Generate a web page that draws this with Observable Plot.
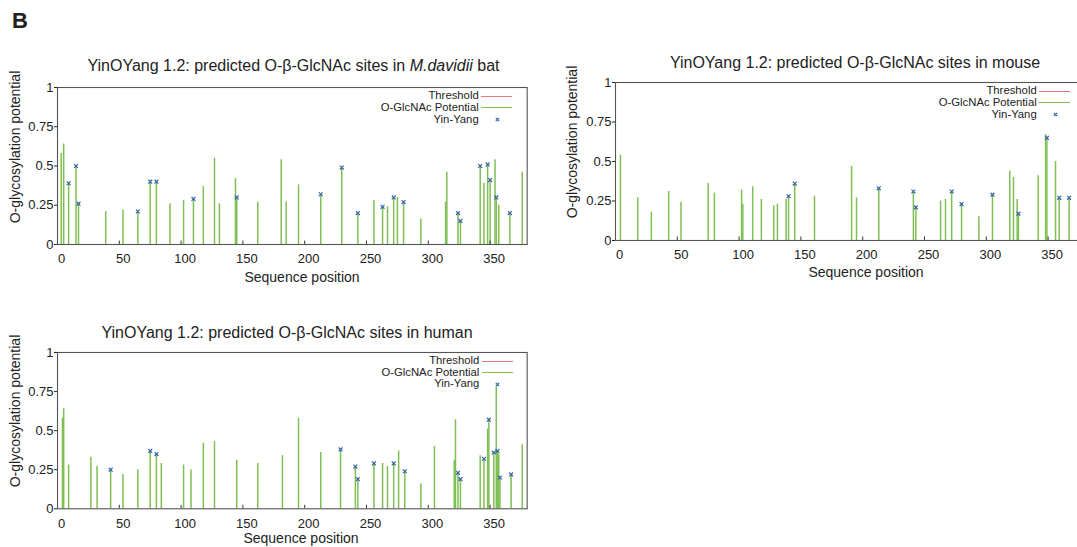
<!DOCTYPE html>
<html><head><meta charset="utf-8">
<script src="https://cdn.jsdelivr.net/npm/d3@7"></script>
<script src="https://cdn.jsdelivr.net/npm/@observablehq/plot@0.6"></script>
<style>
html,body{margin:0;padding:0;background:#fff;}
#page{position:relative;width:1077px;height:547px;overflow:hidden;font-family:"Liberation Sans",Arial,sans-serif;color:#222;background:#fff;}
.abs{position:absolute;white-space:nowrap;line-height:1;}
</style></head><body><div id="page"></div>
<script>
// ---------- data ----------
const xTicks = [0, 50, 100, 150, 200, 250, 300, 350];
const yTicks = [0, 0.25, 0.5, 0.75, 1];
const legendLabels = ["Threshold", "O-GlcNAc Potential", "Yin-Yang"];
const panelTitles = [
  "YinOYang 1.2: predicted O-β-GlcNAc sites in <i>M.davidii</i> bat",
  "YinOYang 1.2: predicted O-β-GlcNAc sites in mouse",
  "YinOYang 1.2: predicted O-β-GlcNAc sites in human"
];
const xLabel = "Sequence position";
const yLabel = "O-glycosylation potential";

// M. davidii bat
const batPos = [3, 5, 9, 15, 17, 39, 53, 65, 75, 80, 91, 102, 110, 118, 127, 131, 144, 145, 162, 181, 185, 195, 213, 230, 243, 256, 263, 267, 272, 275, 280, 294, 314, 315, 324, 326, 342, 345, 348, 350, 354, 355, 357, 366, 376];
const batVal = [0.58, 0.64, 0.39, 0.50, 0.26, 0.21, 0.22, 0.21, 0.40, 0.40, 0.26, 0.28, 0.29, 0.37, 0.55, 0.26, 0.42, 0.30, 0.27, 0.54, 0.27, 0.38, 0.32, 0.49, 0.20, 0.28, 0.24, 0.24, 0.30, 0.30, 0.27, 0.16, 0.27, 0.46, 0.20, 0.15, 0.50, 0.39, 0.51, 0.41, 0.54, 0.30, 0.25, 0.20, 0.46];
const batYYPos = [9, 15, 17, 65, 75, 80, 110, 145, 213, 230, 243, 263, 272, 280, 324, 326, 342, 348, 350, 355, 366];
const batYYVal = [0.39, 0.50, 0.26, 0.21, 0.40, 0.40, 0.29, 0.30, 0.32, 0.49, 0.20, 0.24, 0.30, 0.27, 0.20, 0.15, 0.50, 0.51, 0.41, 0.30, 0.20];

// mouse
const mousePos = [4, 18, 29, 43, 53, 75, 80, 102, 103, 111, 118, 128, 131, 138, 140, 145, 161, 191, 195, 213, 241, 243, 263, 267, 272, 280, 294, 305, 319, 322, 325, 326, 342, 348, 349, 356, 359, 367];
const mouseVal = [0.54, 0.27, 0.18, 0.31, 0.24, 0.36, 0.30, 0.32, 0.23, 0.34, 0.26, 0.22, 0.23, 0.26, 0.28, 0.36, 0.28, 0.47, 0.27, 0.33, 0.31, 0.21, 0.25, 0.26, 0.31, 0.23, 0.15, 0.29, 0.44, 0.40, 0.26, 0.17, 0.41, 0.67, 0.65, 0.50, 0.27, 0.27];
const mouseYYPos = [140, 145, 213, 241, 243, 272, 280, 305, 326, 349, 359, 367];
const mouseYYVal = [0.28, 0.36, 0.33, 0.31, 0.21, 0.31, 0.23, 0.29, 0.17, 0.65, 0.27, 0.27];

// human
const humanPos = [4, 5, 9, 27, 32, 43, 53, 65, 75, 80, 84, 102, 108, 118, 127, 145, 162, 182, 195, 213, 229, 241, 243, 256, 263, 267, 272, 276, 281, 294, 305, 321, 322, 324, 326, 342, 345, 348, 349, 353, 355, 356, 357, 358, 367, 376];
const humanVal = [0.58, 0.64, 0.28, 0.33, 0.27, 0.25, 0.22, 0.25, 0.37, 0.35, 0.29, 0.28, 0.25, 0.42, 0.43, 0.31, 0.29, 0.34, 0.58, 0.36, 0.38, 0.27, 0.19, 0.29, 0.29, 0.27, 0.29, 0.37, 0.24, 0.16, 0.40, 0.31, 0.57, 0.23, 0.19, 0.34, 0.32, 0.51, 0.57, 0.36, 0.78, 0.37, 0.35, 0.20, 0.22, 0.41];
const humanYYPos = [43, 75, 80, 229, 241, 243, 256, 272, 281, 324, 326, 345, 349, 353, 356, 358, 367];
const humanYYVal = [0.25, 0.37, 0.35, 0.38, 0.27, 0.19, 0.29, 0.29, 0.24, 0.23, 0.19, 0.32, 0.57, 0.36, 0.37, 0.20, 0.22];

// ---------- styles / layout ----------
const GREEN = "#80bf55", BLUE = "#3563a8", RED = "#e07878";
const FONT = '"Liberation Sans", Arial, sans-serif';
const X_MAX = 380;
const layouts = [
  {L: 56.5, T: 87, B: 244, R: 526.2, titleX: 293.5, titleY: 66, yLabX: 15, yLabY: 147, xLabX: 302, xLabY: 276.5},
  {L: 614.5, T: 82, B: 240, R: 1084.2, titleX: 855, titleY: 63, yLabX: 572, yLabY: 142, xLabX: 866, xLabY: 271.5},
  {L: 57.2, T: 351.7, B: 508, R: 526.9, titleX: 287, titleY: 333, yLabX: 15, yLabY: 411, xLabX: 301, xLabY: 538}
];
const datasets = [
  [batPos, batVal, batYYPos, batYYVal],
  [mousePos, mouseVal, mouseYYPos, mouseYYVal],
  [humanPos, humanVal, humanYYPos, humanYYVal]
];

const page = document.getElementById("page");

function addText(html, x, y, opts = {}) {
  const d = document.createElement("div");
  d.className = "abs";
  d.innerHTML = html;
  d.style.left = x + "px";
  d.style.top = y + "px";
  d.style.fontSize = (opts.size || 14) + "px";
  if (opts.bold) d.style.fontWeight = "bold";
  d.style.transform = opts.transform || "translate(-50%,-50%)";
  page.appendChild(d);
  return d;
}

addText("B", 12, 10, {size: 22, bold: true, transform: "none"});

layouts.forEach((lay, k) => {
  const [pos, val, yyPos, yyVal] = datasets[k];
  const bars = pos.map((p, i) => ({p, v: val[i]}));
  const yy = yyPos.map((p, i) => ({p, v: yyVal[i]}));
  const mL = 50, mT = 10, mR = 10, mB = 40;
  const chart = Plot.plot({
    width: (lay.R - lay.L) + mL + mR,
    height: (lay.B - lay.T) + mT + mB,
    marginLeft: mL, marginTop: mT, marginRight: mR, marginBottom: mB,
    x: {domain: [0, X_MAX]},
    y: {domain: [0, 1]},
    style: {fontFamily: FONT, fontSize: "13px", color: "#222", background: "transparent", overflow: "visible"},
    marks: [
      Plot.ruleX(bars, {x: "p", y1: 0, y2: "v", stroke: GREEN, strokeWidth: 1.5}),
      Plot.dot(yy, {x: "p", y: "v", symbol: "times", r: 1.9, stroke: BLUE, strokeWidth: 1.2}),
      Plot.ruleX(xTicks, {x: d => d, y1: 0, y2: 0.022, stroke: "#333"}),
      Plot.axisX({ticks: xTicks, tickSize: 0, tickPadding: 9.5, dx: 4, label: null, tickFormat: d => String(d), fill: "#222"}),
      Plot.axisY({ticks: yTicks, tickSize: 3, tickPadding: 1, label: null, tickFormat: d => String(d), fill: "#222"}),
      Plot.frame({stroke: "#555", strokeWidth: 1.1})
    ]
  });
  chart.style.position = "absolute";
  chart.style.left = (lay.L - mL) + "px";
  chart.style.top = (lay.T - mT) + "px";
  page.appendChild(chart);

  addText(panelTitles[k], lay.titleX, lay.titleY, {size: 16});
  addText(yLabel, lay.yLabX, lay.yLabY, {size: 14, transform: "translate(-50%,-50%) rotate(-90deg)"});
  addText(xLabel, lay.xLabX, lay.xLabY, {size: 14});

  // legend
  const colors = [RED, GREEN, null];
  legendLabels.forEach((lab, i) => {
    const ry = lay.T + 9.3 + i * 11.6;
    addText(lab, lay.R - 47.5, ry, {size: 11.3, transform: "translate(-100%,-50%)"});
    if (colors[i]) {
      const ln = document.createElement("div");
      ln.className = "abs";
      ln.style.left = (lay.R - 45) + "px";
      ln.style.top = (ry - 0.5) + "px";
      ln.style.width = "31px";
      ln.style.height = "1px";
      ln.style.background = colors[i];
      page.appendChild(ln);
    } else {
      const ns = "http://www.w3.org/2000/svg";
      const s = document.createElementNS(ns, "svg");
      s.setAttribute("width", 7); s.setAttribute("height", 7);
      s.style.position = "absolute";
      s.style.left = (lay.R - 29 - 3.5) + "px";
      s.style.top = (ry - 3.5) + "px";
      s.innerHTML = `<path d="M1.8,1.8L5.2,5.2M5.2,1.8L1.8,5.2" stroke="${BLUE}" stroke-width="1.2"/>`;
      page.appendChild(s);
    }
  });
});
</script></body></html>
